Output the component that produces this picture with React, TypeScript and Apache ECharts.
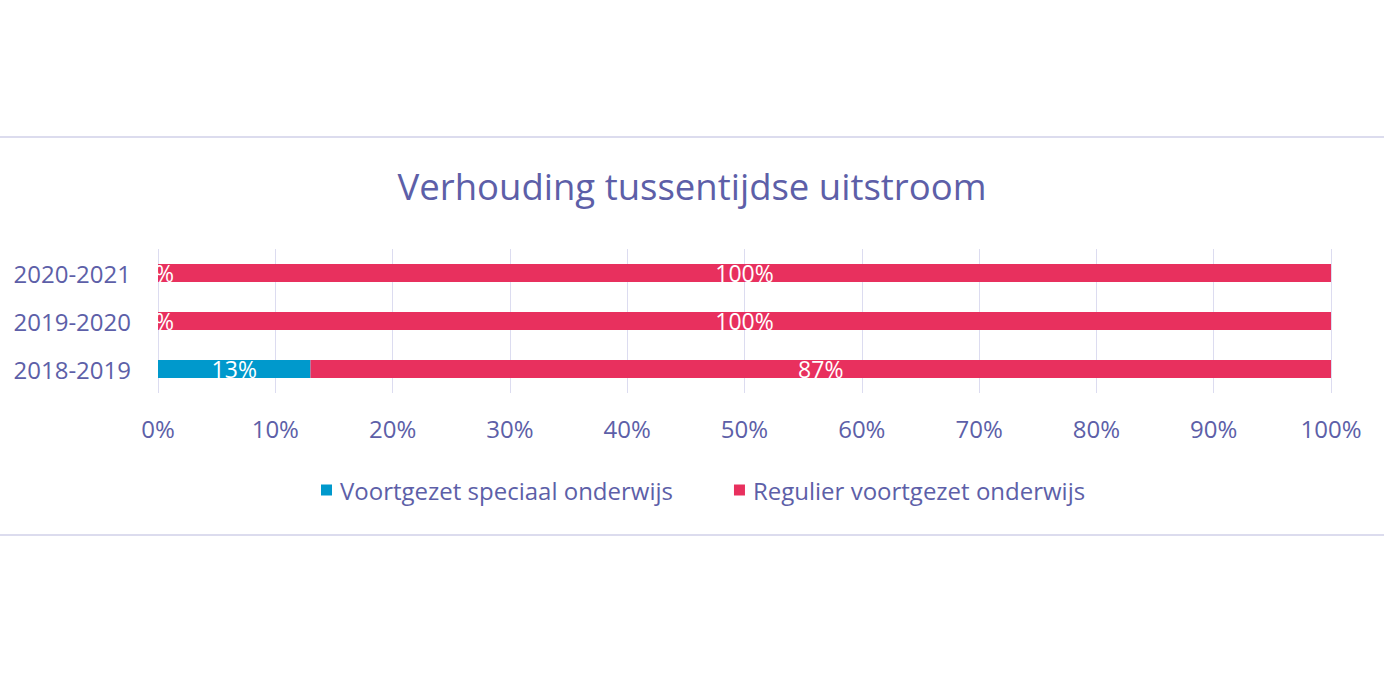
import React, { useEffect, useRef } from "react";
import * as echarts from "echarts";

const categories = ["2018-2019", "2019-2020", "2020-2021"];
const vsoValues = [13, 0, 0];
const vooValues = [87, 100, 100];
const xTicks = [0, 10, 20, 30, 40, 50, 60, 70, 80, 90, 100];
const seriesNames = ["Voortgezet speciaal onderwijs", "Regulier voortgezet onderwijs"];
const title = "Verhouding tussentijdse uitstroom";

const TEXT = "#5d5fa8";
const FONT = "'Open Sans', Lato, sans-serif";

export default function App() {
  const ref = useRef<HTMLDivElement>(null);
  useEffect(() => {
    const chart = echarts.init(ref.current!, null, { renderer: "svg" });
    const label = {
      show: true,
      position: "inside",
      color: "#ffffff",
      fontSize: 23,
      fontFamily: FONT,
      formatter: (p: any) => `${p.value}%`,
    };
    chart.setOption({
      animation: false,
      title: {
        text: title,
        left: "center",
        top: 162,
        textStyle: { color: TEXT, fontSize: 36.5, fontWeight: "normal", fontFamily: FONT },
      },
      legend: {
        top: 473,
        left: 316,
        itemWidth: 11,
        itemHeight: 11,
        itemGap: 61,
        icon: "rect",
        textStyle: { color: TEXT, fontSize: 24, fontFamily: FONT, padding: [0, 0, 0, 3] },
        data: seriesNames,
      },
      grid: { left: 158, right: 53, top: 249, height: 144, containLabel: false },
      xAxis: {
        type: "value",
        min: 0,
        max: 100,
        interval: 10,
        axisLine: { show: false },
        axisTick: { show: false },
        splitLine: { show: true, lineStyle: { color: "#dcdcf0", width: 1 } },
        axisLabel: {
          color: TEXT,
          fontSize: 24,
          fontFamily: FONT,
          margin: 23,
          formatter: (v: number) => (xTicks.includes(v) ? `${v}%` : ""),
        },
      },
      yAxis: {
        type: "category",
        data: categories,
        axisLine: { show: false },
        axisTick: { show: false },
        axisLabel: { color: TEXT, fontSize: 24, fontFamily: FONT, margin: 27 },
      },
      series: [
        {
          name: seriesNames[0],
          type: "bar",
          stack: "total",
          barWidth: 18,
          itemStyle: { color: "#0099cc" },
          label,
          data: vsoValues,
        },
        {
          name: seriesNames[1],
          type: "bar",
          stack: "total",
          barWidth: 18,
          itemStyle: { color: "#e8305e" },
          label,
          data: vooValues,
        },
      ],
      graphic: [
        { type: "line", shape: { x1: 0, y1: 137, x2: 1384, y2: 137 }, style: { stroke: "#dcdcee", lineWidth: 2 } },
        { type: "line", shape: { x1: 0, y1: 535, x2: 1384, y2: 535 }, style: { stroke: "#dcdcee", lineWidth: 2 } },
      ],
    });
    return () => chart.dispose();
  }, []);
  return <div ref={ref} style={{ width: 1384, height: 676, position: "absolute", left: 0, top: 0 }} />;
}
